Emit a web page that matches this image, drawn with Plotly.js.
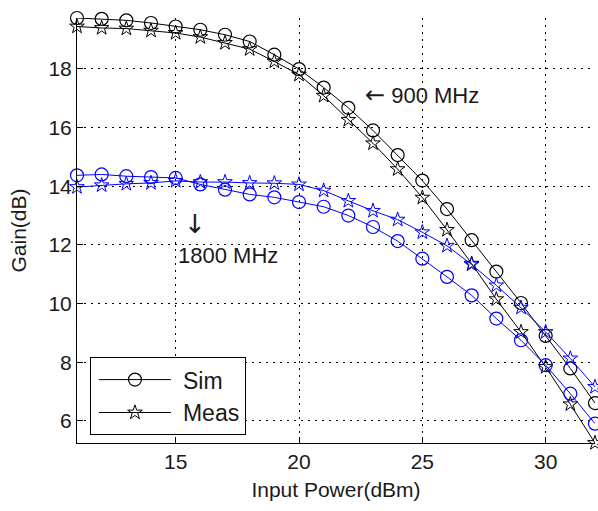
<!DOCTYPE html>
<html>
<head>
<meta charset="utf-8">
<script src="https://cdn.plot.ly/plotly-3.0.1.min.js"></script>
<style>html,body{margin:0;padding:0;background:#fff;}#chart{width:598px;height:511px;}</style>
</head>
<body>
<div id="chart"></div>
<script>
// Input power (dBm)
const inputPower = [11,12,13,14,15,16,17,18,19,20,21,22,23,24,25,26,27,28,29,30,31,32];
// 900 MHz
const sim900  = [19.73,19.70,19.65,19.56,19.44,19.33,19.16,18.93,18.48,17.99,17.36,16.67,15.90,15.06,14.19,13.22,12.16,11.09,10.02,8.90,7.79,6.61];
const meas900 = [19.44,19.39,19.37,19.30,19.22,19.08,18.88,18.67,18.25,17.80,17.08,16.26,15.46,14.58,13.61,12.51,11.36,10.15,9.03,7.84,6.57,5.25];
// 1800 MHz
const sim1800  = [14.37,14.40,14.34,14.31,14.28,14.06,13.88,13.72,13.62,13.46,13.30,13.00,12.61,12.13,11.53,10.91,10.28,9.49,8.75,7.90,6.93,5.91];
const meas1800 = [13.97,14.03,14.08,14.11,14.18,14.14,14.14,14.11,14.10,14.06,13.85,13.50,13.16,12.86,12.43,11.97,11.33,10.62,9.86,9.03,8.13,7.16];

const legendNames = ['Sim','Meas'];
const xTicks = [15,20,25,30];
const yTicks = [6,8,10,12,14,16,18];

const FONT = 'Liberation Sans, Arial, sans-serif';
const TXT = '#1a1a1a';
const ARROW_SPAN = '<span style="font-family:DejaVu Sans;font-size:24px">';

function tr(y, color, symbol, name, show){
  const isCircle = symbol === 'circle-open';
  return {
    x: inputPower, y: y, type: 'scatter', mode: 'lines+markers',
    name: name, showlegend: show,
    line: {color: color, width: 1},
    marker: {symbol: symbol, size: isCircle ? 13 : 11, color: color, line: {color: color, width: isCircle ? 1.2 : 1}},
    cliponaxis: false
  };
}

const data = [
  tr(sim900, '#000000', 'circle-open', legendNames[0], true),
  tr(meas900, '#000000', 'star-open', legendNames[1], true),
  tr(sim1800, '#0000ff', 'circle-open', legendNames[0], false),
  tr(meas1800, '#0000ff', 'star-open', legendNames[1], false)
];

const axisCommon = {
  showline: true, linecolor: '#000', linewidth: 1, mirror: false,
  ticks: 'inside', ticklen: 6, tickwidth: 1, tickcolor: '#000',
  showgrid: true, gridcolor: '#000', gridwidth: 1, griddash: '2px,5px',
  zeroline: false,
  tickfont: {family: FONT, size: 21, color: TXT}
};

const layout = {
  width: 598, height: 511,
  margin: {l: 77, r: 3, t: 18, b: 68},
  paper_bgcolor: '#fff', plot_bgcolor: '#fff',
  font: {family: FONT, color: TXT},
  xaxis: Object.assign({}, axisCommon, {
    range: [11, 32], tickvals: xTicks, ticktext: xTicks.map(String),
    title: {text: 'Input Power(dBm)', font: {family: FONT, size: 21, color: TXT}, standoff: 10}
  }),
  yaxis: Object.assign({}, axisCommon, {
    range: [5.25, 19.73], tickvals: yTicks, ticktext: yTicks.map(String),
    title: {text: 'Gain(dB)', font: {family: FONT, size: 21, color: TXT}, standoff: 16}
  }),
  showlegend: true,
  legend: {
    x: 0.025, y: 0.202, xanchor: 'left', yanchor: 'top',
    bgcolor: '#fff', bordercolor: '#000', borderwidth: 1,
    font: {family: FONT, size: 23, color: TXT},
    itemwidth: 82, tracegroupgap: 0
  },
  annotations: [
    {x: 22.6, y: 17.11, xref: 'x', yref: 'y', text: ARROW_SPAN + '\u2190</span> 900 MHz', showarrow: false,
     xanchor: 'left', yanchor: 'middle', font: {family: FONT, size: 22, color: TXT}},
    {x: 15.78, y: 12.72, xref: 'x', yref: 'y', text: '\u2193', showarrow: false, xanchor: 'center', yanchor: 'middle',
     font: {family: 'DejaVu Sans, sans-serif', size: 26, color: TXT}},
    {x: 15.0, y: 11.63, xref: 'x', yref: 'y', text: '1800 MHz', showarrow: false, xanchor: 'left', yanchor: 'middle',
     font: {family: FONT, size: 22, color: TXT}}
  ]
};

Plotly.newPlot('chart', data, layout, {displayModeBar: false, staticPlot: true}).then(function(gd){
  // MATLAB-style longer legend line samples
  gd.querySelectorAll('.legend .legendlines path').forEach(function(p){ p.setAttribute('d', 'M8,0h72'); });
  gd.querySelectorAll('.legend .legendpoints path.scatterpts').forEach(function(p){ p.setAttribute('transform', 'translate(44,0)'); });
});
</script>
</body>
</html>
